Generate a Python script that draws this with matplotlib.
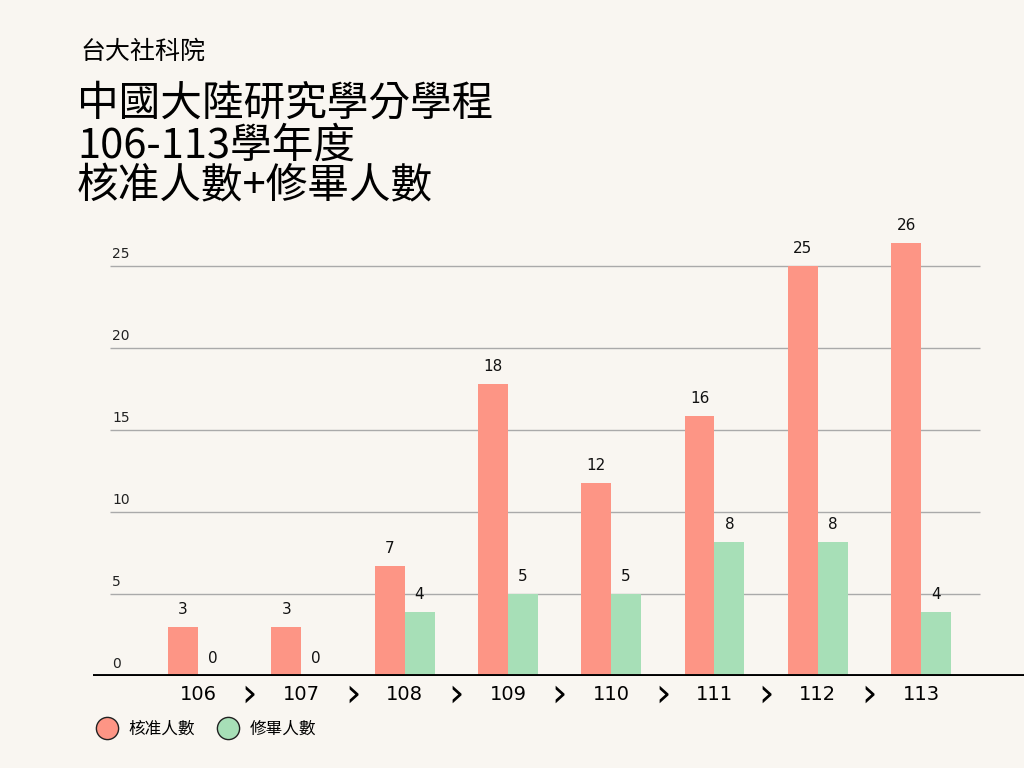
import matplotlib
matplotlib.use("Agg")
import matplotlib.pyplot as plt
from matplotlib.lines import Line2D
import numpy as np

plt.rcParams['font.family'] = ['Noto Sans CJK TC', 'DejaVu Sans']

# data
years = ['106', '107', '108', '109', '110', '111', '112', '113']
approved = [3.0, 3.0, 6.7, 17.8, 11.8, 15.85, 25.0, 26.4]
finished = [0.0, 0.0, 3.9, 5.0, 5.0, 8.2, 8.2, 3.9]
yticks = [0, 5, 10, 15, 20, 25]
series_names = ['核准人數', '修畢人數']

bg = '#f9f6f1'
red = '#fd9585'
green = '#a7dfb7'

fig = plt.figure(figsize=(10.24, 7.68), dpi=100, facecolor=bg)
ax = fig.add_axes([93 / 1024, 92 / 768, (1024 - 93) / 1024, 459 / 768])
ax.set_facecolor(bg)

x = np.arange(len(years))
w = 0.29
b1 = ax.bar(x - w / 2, approved, w, color=red, zorder=3)
b2 = ax.bar(x + w / 2, finished, w, color=green, zorder=3)

for bars in (b1, b2):
    for r in bars:
        h = r.get_height()
        ax.text(r.get_x() + r.get_width() / 2, h + 0.6, str(int(round(h))),
                ha='center', va='bottom', fontsize=11, color='#111111',
                family='DejaVu Sans')

ax.set_xlim(-1.016, 7.996)
ax.set_ylim(0, 28)

# grid lines and left labels
for t in yticks:
    if t > 0:
        ax.hlines(t, -0.852, 7.57, color='#aaaaaa', linewidth=1, zorder=1)
    ax.text(-0.83, t + 0.3, str(t), ha='left', va='bottom', fontsize=10,
            color='#222222', family='DejaVu Sans')

ax.axhline(0, color='black', linewidth=2.8, zorder=4)

# category labels with arrows between them
for i, yr in enumerate(years):
    ax.text(i, -1.15, yr, ha='center', va='center', fontsize=14,
            family='DejaVu Sans', fontweight='medium', clip_on=False)
    if i < len(years) - 1:
        ax.text(i + 0.5, -1.15, '›', ha='center', va='center', fontsize=28,
                family='DejaVu Sans', clip_on=False)

for s in ax.spines.values():
    s.set_visible(False)
ax.set_xticks([])
ax.set_yticks([])

# titles
fig.text(80 / 1024, 1 - 52 / 768, '台大社科院', fontsize=18, va='center', ha='left',
         fontweight='light')
fig.text(77 / 1024, 1 - 104 / 768, '中國大陸研究學分學程', fontsize=30, va='center', ha='left',
         fontweight='light')
fig.text(77 / 1024, 1 - 146 / 768, '106-113學年度', fontsize=30, va='center', ha='left',
         fontweight='light')
fig.text(77 / 1024, 1 - 187 / 768, '核准人數+修畢人數', fontsize=30, va='center', ha='left',
         fontweight='light')

handles = [Line2D([], [], marker='o', linestyle='', markersize=16,
                  markerfacecolor=c, markeredgecolor='#222222', markeredgewidth=1)
           for c in (red, green)]
fig.legend(handles, series_names, loc='center left', bbox_to_anchor=(75 / 1024, 1 - 729 / 768),
           ncol=2, frameon=False, fontsize=12, handletextpad=0.3, columnspacing=1.0)

fig.savefig('out.png', dpi=100, facecolor=bg)
